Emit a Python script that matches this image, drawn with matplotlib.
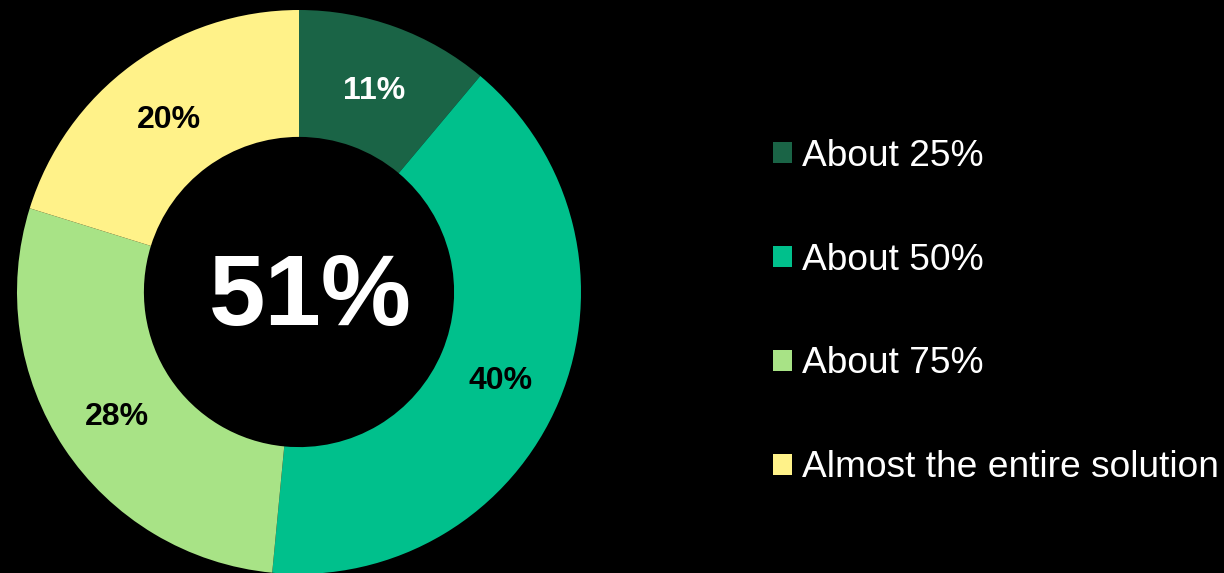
import numpy as np
import matplotlib
matplotlib.use("Agg")
import matplotlib.pyplot as plt
from matplotlib import transforms

categories = ["About 25%", "About 50%", "About 75%", "Almost the entire solution"]
values = [11, 40, 28, 20]
colors = ["#1a6446", "#00c08c", "#a8e386", "#fff289"]
label_colors = ["white", "black", "black", "black"]
center_label = "51%"

plt.rcParams['font.family'] = ['Liberation Sans', 'DejaVu Sans']

W, H = 1224, 573
fig = plt.figure(figsize=(W / 100, H / 100), dpi=100, facecolor="black")

cx, cy, R = 299, 292, 282
ax = fig.add_axes([(cx - R) / W, (H - cy - R) / H, 2 * R / W, 2 * R / H])
ax.set_facecolor("black")

ring = 0.45
wedges, _ = ax.pie(values, colors=colors, startangle=90, counterclock=False,
                   radius=1.0, wedgeprops=dict(width=ring, edgecolor="none"))
ax.set_xlim(-1, 1)
ax.set_ylim(-1, 1)
ax.set_aspect("equal")
ax.axis("off")

rmid = 1.0 - ring / 2
for w, v, tc in zip(wedges, values, label_colors):
    ang = np.deg2rad((w.theta1 + w.theta2) / 2)
    ax.text(rmid * np.cos(ang), rmid * np.sin(ang) - 0.015, f"{v}%", ha="center",
            va="center", fontsize=23, fontweight="bold", color=tc)

off = transforms.offset_copy(ax.transData, fig=fig, x=11, y=-7, units="dots")
ax.text(0, 0, center_label, ha="center", va="center", fontsize=73,
        fontweight="bold", color="white", transform=off)

leg = fig.legend(wedges, categories, loc="center left",
                 bbox_to_anchor=(773 / W, 1 - 312 / H), frameon=False,
                 fontsize=26.7, labelcolor="white", handlelength=0.52,
                 handleheight=0.52, handletextpad=0.27, labelspacing=1.86,
                 borderpad=0, borderaxespad=0)

fig.savefig("out.png", dpi=100, facecolor="black")
